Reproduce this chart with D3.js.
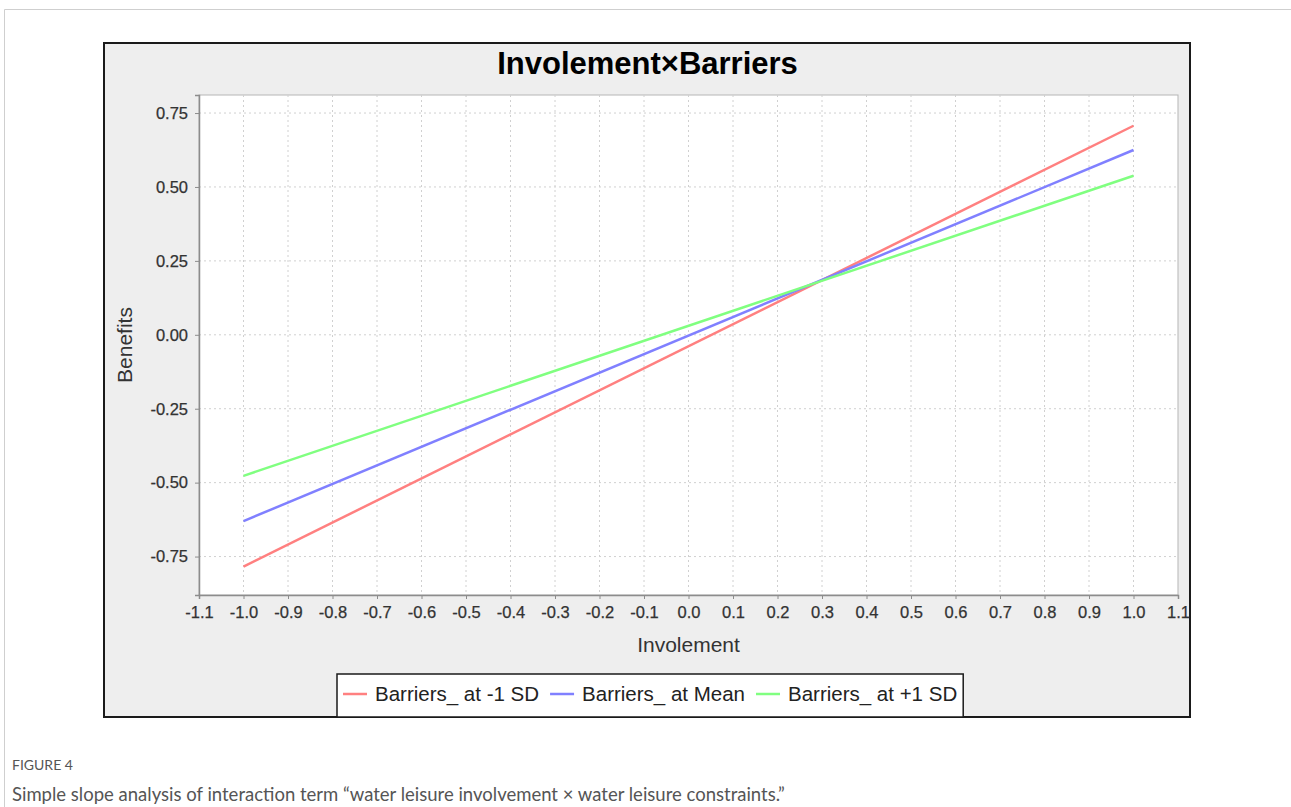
<!DOCTYPE html>
<html>
<head>
<meta charset="utf-8">
<script src="https://cdn.jsdelivr.net/npm/d3@7"></script>
<style>
  body { margin: 0; background: #ffffff; }
  svg { display: block; }
</style>
</head>
<body>
<svg id="chart__svg" width="1291" height="807"></svg>
<script>
// data
const involement = [-1.0, 1.0];
const seriesNames = ["Barriers_ at -1 SD", "Barriers_ at Mean", "Barriers_ at +1 SD"];
const lowSD = [-0.784, 0.707];
const atMean = [-0.63, 0.625];
const highSD = [-0.477, 0.538];
const seriesColors = ["#ff8080", "#8080ff", "#80ff80"];
const xTickValues = [-1.1, -1.0, -0.9, -0.8, -0.7, -0.6, -0.5, -0.4, -0.3, -0.2, -0.1, 0.0, 0.1, 0.2, 0.3, 0.4, 0.5, 0.6, 0.7, 0.8, 0.9, 1.0, 1.1];
const yTickValues = [-0.75, -0.5, -0.25, 0.0, 0.25, 0.5, 0.75];

const SVG = d3.select("#chart__svg");
const BOX = { left: 104, top: 43, right: 1190, bottom: 717 };
const PLOT = { left: 199, top: 95, right: 1178, bottom: 595 };
const FONT = "'Liberation Sans', Arial, sans-serif";

const xScale = d3.scaleLinear().domain([-1.1, 1.1]).range([PLOT.left, PLOT.right]);
const yScale = d3.scaleLinear().domain([-0.88, 0.811]).range([PLOT.bottom, PLOT.top]);

// page card border
SVG.append("path")
  .attr("d", "M4.5,807 L4.5,9.5 L1291,9.5")
  .attr("fill", "none")
  .attr("stroke", "#cfcfcf")
  .attr("stroke-width", 1);

// chart frame
SVG.append("rect")
  .attr("x", BOX.left)
  .attr("y", BOX.top)
  .attr("width", BOX.right - BOX.left)
  .attr("height", BOX.bottom - BOX.top)
  .attr("fill", "#eeeeee")
  .attr("stroke", "#1a1a1a")
  .attr("stroke-width", 2);

SVG.append("text")
  .attr("x", 647.5)
  .attr("y", 74)
  .attr("text-anchor", "middle")
  .attr("font-family", FONT)
  .attr("font-weight", "bold")
  .attr("font-size", 31)
  .attr("fill", "#000")
  .text("Involement×Barriers");

// plot background
SVG.append("rect")
  .attr("x", PLOT.left)
  .attr("y", PLOT.top)
  .attr("width", PLOT.right - PLOT.left)
  .attr("height", PLOT.bottom - PLOT.top)
  .attr("fill", "#ffffff")
  .attr("stroke", "#b5b5b5")
  .attr("stroke-width", 1);

// grid
const grid = SVG.append("g").attr("id", "grid");
grid.selectAll("line.vgrid")
  .data(xTickValues.slice(1, -1))
  .join("line")
  .attr("class", "vgrid")
  .attr("x1", (d) => xScale(d))
  .attr("x2", (d) => xScale(d))
  .attr("y1", PLOT.top)
  .attr("y2", PLOT.bottom)
  .attr("stroke", "#d0d0d0")
  .attr("stroke-dasharray", "2,3");
grid.selectAll("line.hgrid")
  .data(yTickValues)
  .join("line")
  .attr("class", "hgrid")
  .attr("x1", PLOT.left)
  .attr("x2", PLOT.right)
  .attr("y1", (d) => yScale(d))
  .attr("y2", (d) => yScale(d))
  .attr("stroke", "#d0d0d0")
  .attr("stroke-dasharray", "2,3");

// axes
const xAxis = SVG.append("g")
  .attr("id", "x-axis")
  .attr("transform", "translate(0," + PLOT.bottom + ")")
  .call(d3.axisBottom(xScale).tickValues(xTickValues).tickFormat(d3.format(".1f")).tickSizeOuter(0).tickSize(4).tickPadding(7));
const yAxis = SVG.append("g")
  .attr("id", "y-axis")
  .attr("transform", "translate(" + PLOT.left + ",0)")
  .call(d3.axisLeft(yScale).tickValues(yTickValues).tickFormat(d3.format(".2f")).tickSizeOuter(0).tickSize(4).tickPadding(7));

[xAxis, yAxis].forEach((ax) => {
  ax.select(".domain").attr("stroke", "#8c8c8c").attr("stroke-width", 1.5);
  ax.selectAll(".tick line").attr("stroke", "#8c8c8c");
  ax.selectAll(".tick text")
    .attr("font-family", FONT)
    .attr("font-size", 16.5)
    .attr("fill", "#333")
    .attr("stroke", "#333")
    .attr("stroke-width", 0.25)
    .text((d) => d3.format(ax === xAxis ? ".1f" : ".2f")(d).replace("−", "-"));
});

SVG.append("text")
  .attr("x", 688.5)
  .attr("y", 652)
  .attr("text-anchor", "middle")
  .attr("font-family", FONT)
  .attr("font-size", 21)
  .attr("fill", "#333")
  .text("Involement");

SVG.append("text")
  .attr("transform", "translate(132,345) rotate(-90)")
  .attr("text-anchor", "middle")
  .attr("font-family", FONT)
  .attr("font-size", 21)
  .attr("fill", "#333")
  .text("Benefits");

// series lines
const seriesData = [lowSD, atMean, highSD].map((vals, i) => ({
  name: seriesNames[i],
  color: seriesColors[i],
  points: vals.map((v, j) => ({ x: involement[j], y: v })),
}));

const line = d3.line().x((d) => xScale(d.x)).y((d) => yScale(d.y));
SVG.append("g")
  .attr("id", "lines")
  .selectAll("path")
  .data(seriesData)
  .join("path")
  .attr("d", (d) => line(d.points))
  .attr("fill", "none")
  .attr("stroke", (d) => d.color)
  .attr("stroke-width", 2.5);

// legend
const legend = SVG.append("g").attr("id", "legend");
const legendBox = legend.append("rect")
  .attr("fill", "#ffffff")
  .attr("stroke", "#1a1a1a")
  .attr("stroke-width", 1.5);
let cursor = 343;
seriesData.forEach((s) => {
  legend.append("line")
    .attr("x1", cursor)
    .attr("x2", cursor + 24)
    .attr("y1", 694)
    .attr("y2", 694)
    .attr("stroke", s.color)
    .attr("stroke-width", 2.5);
  const t = legend.append("text")
    .attr("x", cursor + 32)
    .attr("y", 701)
    .attr("font-family", FONT)
    .attr("font-size", 20.5)
    .attr("fill", "#222")
    .text(s.name);
  cursor += 32 + t.node().getComputedTextLength() + 11;
});
legendBox
  .attr("x", 337)
  .attr("y", 674)
  .attr("width", cursor - 5 - 337)
  .attr("height", 43);

// caption
SVG.append("text")
  .attr("x", 12)
  .attr("y", 770)
  .attr("font-family", "Lato, 'Open Sans', sans-serif")
  .attr("font-size", 14)
  .attr("fill", "#555")
  .text("FIGURE 4");
SVG.append("text")
  .attr("x", 12)
  .attr("y", 801)
  .attr("font-family", "Lato, 'Open Sans', sans-serif")
  .attr("font-size", 18.5)
  .attr("fill", "#555")
  .text("Simple slope analysis of interaction term “water leisure involvement × water leisure constraints.”");
</script>
</body>
</html>
